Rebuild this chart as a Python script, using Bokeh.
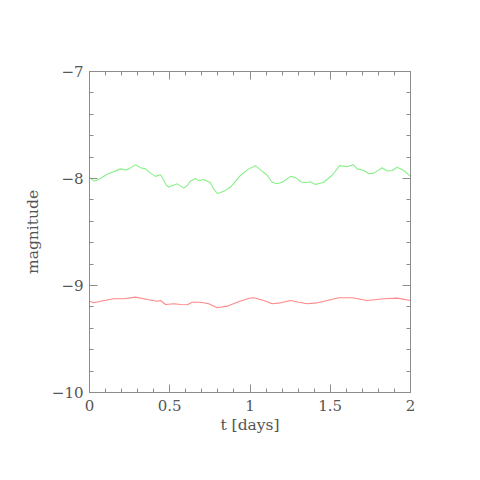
from bokeh.plotting import figure
from bokeh.models import LinearAxis, Range1d, FixedTicker, CustomJSTickFormatter
from bokeh.embed import file_html
from bokeh.resources import INLINE

t_green = [0.00, 0.027, 0.058, 0.110, 0.193, 0.224, 0.245, 0.287, 0.318, 0.349, 0.380, 0.411,
           0.442, 0.453, 0.480, 0.494, 0.546, 0.588, 0.609, 0.629, 0.660, 0.681, 0.712, 0.754,
           0.774, 0.796, 0.837, 0.879, 0.941, 0.993, 1.034, 1.065, 1.107, 1.138, 1.169, 1.201,
           1.252, 1.283, 1.315, 1.346, 1.377, 1.408, 1.460, 1.512, 1.558, 1.606, 1.643, 1.668,
           1.709, 1.740, 1.771, 1.824, 1.855, 1.886, 1.917, 1.958, 2.000]
m_green = [-7.99, -8.025, -8.01, -7.96, -7.91, -7.92, -7.91, -7.87, -7.90, -7.91, -7.95, -7.98,
           -7.965, -7.99, -8.065, -8.08, -8.05, -8.09, -8.065, -8.025, -8.00, -8.02, -8.01, -8.04,
           -8.10, -8.14, -8.12, -8.08, -7.97, -7.91, -7.88, -7.92, -7.97, -8.035, -8.05, -8.035,
           -7.98, -7.99, -8.03, -8.04, -8.03, -8.056, -8.035, -7.97, -7.88, -7.89, -7.87, -7.91,
           -7.925, -7.956, -7.95, -7.90, -7.93, -7.925, -7.895, -7.925, -7.98]

t_red = [0.00, 0.027, 0.069, 0.151, 0.214, 0.287, 0.360, 0.422, 0.442, 0.474, 0.525, 0.567,
         0.609, 0.640, 0.692, 0.743, 0.796, 0.858, 0.920, 0.993, 1.024, 1.086, 1.138, 1.190,
         1.252, 1.304, 1.356, 1.419, 1.481, 1.553, 1.637, 1.730, 1.834, 1.917, 2.000]
m_red = [-9.147, -9.162, -9.147, -9.124, -9.124, -9.109, -9.131, -9.147, -9.14, -9.178, -9.171,
         -9.178, -9.18, -9.156, -9.156, -9.171, -9.208, -9.193, -9.156, -9.119, -9.115, -9.14,
         -9.171, -9.162, -9.14, -9.156, -9.171, -9.162, -9.14, -9.115, -9.115, -9.14, -9.124,
         -9.118, -9.14]

x_ticks = [0, 0.5, 1, 1.5, 2]
y_ticks = [-10, -9, -8, -7]

FONT = "DejaVu Serif"
AX = "#8c8c8c"
TXT = "#555555"

p = figure(width=464, height=464, output_backend="svg", toolbar_location=None,
           x_range=Range1d(0, 2), y_range=Range1d(-10, -7),
           min_border_left=89, min_border_right=54, min_border_top=71, min_border_bottom=72)
p.frame_width = 321
p.frame_height = 321
p.grid.visible = False
p.outline_line_color = None
p.background_fill_color = "white"
p.border_fill_color = "white"

p.line(t_green, m_green, line_color="#88f088", line_width=1.1)
p.line(t_red, m_red, line_color="#ff8888", line_width=1.1)

fmt = CustomJSTickFormatter(code="""
if (tick < 0) { return '\u2212' + Math.abs(tick).toString(); }
return tick.toString();
""")

xt = FixedTicker(ticks=x_ticks, minor_ticks=[i / 10 for i in range(21)])
yt = FixedTicker(ticks=y_ticks, minor_ticks=[-10 + i * 0.2 for i in range(16)])

def style(ax, labels):
    ax.axis_line_color = AX
    ax.major_tick_line_color = AX
    ax.minor_tick_line_color = AX
    ax.major_tick_in = 8
    ax.major_tick_out = 0
    ax.minor_tick_in = 4
    ax.minor_tick_out = 0
    ax.major_label_text_font = FONT
    ax.major_label_text_font_size = "15px"
    ax.major_label_text_color = TXT
    ax.axis_label_text_font = FONT
    ax.axis_label_text_font_size = "15.5px"
    ax.axis_label_text_color = TXT
    ax.axis_label_text_font_style = "normal"
    if not labels:
        ax.major_label_text_font_size = "0px"
        ax.major_label_text_alpha = 0

xa = p.xaxis[0]
xa.ticker = xt
xa.formatter = fmt
xa.axis_label = "t [days]"
style(xa, True)
xa.major_label_standoff = 7
xa.axis_label_standoff = 2

ya = p.yaxis[0]
ya.ticker = yt
ya.formatter = fmt
ya.axis_label = "magnitude"
style(ya, True)
ya.major_label_standoff = 6
ya.axis_label_standoff = 7

top = LinearAxis(ticker=xt)
style(top, False)
p.add_layout(top, "above")
right = LinearAxis(ticker=yt)
style(right, False)
p.add_layout(right, "right")

open("out.html", "w").write(file_html(p, INLINE))
